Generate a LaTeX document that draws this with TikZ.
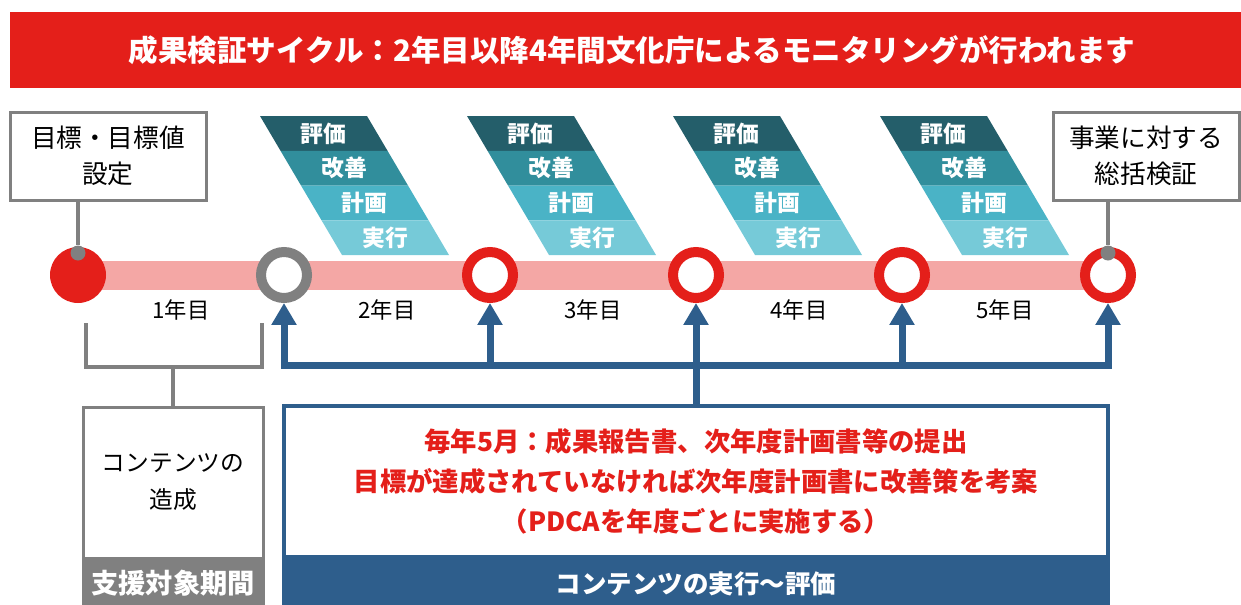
\documentclass[tikz,border=0pt]{standalone}
\usepackage{fontspec}
\setmainfont{Noto Sans CJK JP}
\usetikzlibrary{arrows.meta}
\definecolor{mainred}{HTML}{E41F1A}
\definecolor{bandpink}{HTML}{F4A7A5}
\definecolor{ringgray}{HTML}{808080}
\definecolor{planblue}{HTML}{2E5E8C}
\definecolor{pdA}{HTML}{245E6A}
\definecolor{pdB}{HTML}{318E9C}
\definecolor{pdC}{HTML}{4AB3C6}
\definecolor{pdD}{HTML}{76CAD8}
\newlength\unitpx
\setlength\unitpx{0.02cm}
\tikzset{
  labelbox/.style={draw=ringgray, line width=3\unitpx, fill=white, align=center,
    inner sep=0pt, minimum height=88\unitpx, font=\fontsize{14.6}{20.5}\selectfont},
  ring/.style={circle, draw=#1, line width=10\unitpx, fill=white, inner sep=0pt,
    minimum size=46\unitpx},
  dot/.style={circle, fill=ringgray, inner sep=0pt, minimum size=15\unitpx},
  grayline/.style={draw=ringgray, line width=4\unitpx},
  blueline/.style={draw=planblue, line width=7\unitpx},
  bluetip/.tip={Triangle[width=0.48cm, length=0.44cm]},
  bluearrow/.style={blueline, -bluetip},
  cyclelabel/.style={text=white, font=\fontsize{13}{15}\selectfont\bfseries},
  yearlabel/.style={font=\fontsize{12.7}{15}\selectfont},
  barlabel/.style={text=white, inner sep=0pt, font=\fontsize{15}{18}\selectfont\bfseries}
}

\begin{document}
\begin{tikzpicture}[x=0.02cm, y=-0.02cm]
  \useasboundingbox (0,0) rectangle (1241,605);
  \fill[mainred] (10,12) rectangle (1241,88);
  \node[text=white, font=\fontsize{16.8}{20}\selectfont\bfseries] (title) at (632,50)
    {成果検証サイクル：2年目以降4年間文化庁によるモニタリングが行われます};

  \foreach \bx [count=\k] in {260,467,673,880} {
    \foreach \lbl/\col [count=\j from 0] in {評価/pdA,改善/pdB,計画/pdC,実行/pdD} {
      \pgfmathsetmacro{\ytop}{116 + \j * 34.75}
      \pgfmathsetmacro{\xl}{\bx + 0.59 * (\ytop - 116)}
      \fill[\col] (\xl,\ytop) -- ++(107,0) -- ++(20.5,34.75) -- ++(-107,0) -- cycle;
      \node[cyclelabel] (p\k\j) at (\xl + 63.75,\ytop + 17.4) {\lbl};
    }
  }

  \fill[bandpink] (78,261) rectangle (1108,290);
  \node[circle, fill=mainred, inner sep=0pt, minimum size=56\unitpx] (c0) at (78,275) {};
  \foreach \x/\col [count=\i] in {284/ringgray,490/mainred,696/mainred,902/mainred,1108/mainred}
    \node[ring=\col] (c\i) at (\x,275) {};
  \foreach \x [count=\i] in {181,387,593,799,1005}
    \node[yearlabel] (y\i) at (\x,310) {\i 年目};

  \node[labelbox, minimum width=196\unitpx] (goal) at (108,156) {目標・目標値\\設定};
  \node[dot] (d0) at (78,253) {};
  \draw[grayline] (d0 |- goal.south) -- (d0);
  \node[labelbox, minimum width=186\unitpx] (review) at (1146,156) {事業に対する\\総括検証};
  \node[dot] (d5) at (1108,253) {};
  \draw[grayline] (d5 |- review.south) -- (d5);

  \node[draw=ringgray, line width=3\unitpx, align=center, inner sep=0pt,
    minimum width=180\unitpx, minimum height=151\unitpx,
    font=\fontsize{13.5}{21}\selectfont] (make) at (173,482.5) {コンテンツの\\造成};
  \node[barlabel, fill=ringgray, anchor=north, minimum width=183\unitpx,
    minimum height=47\unitpx, font=\fontsize{15.5}{18}\selectfont\bfseries]
    (makebar) at (make.south) {支援対象期間};
  \coordinate (bl) at (86,323);
  \coordinate (br) at (262,323);
  \draw[grayline] (bl) -- (86,367) -- (262,367) -- (br);
  \draw[grayline] (make.north |- 0,367) -- (make.north);

  \node[draw=planblue, line width=4\unitpx, text=mainred, align=center, inner sep=0pt,
    minimum width=824\unitpx, minimum height=151\unitpx,
    font=\fontsize{15}{22.7}\selectfont\bfseries] (exec) at (696,481.5)
    {毎年5月：成果報告書、次年度計画書等の提出\\
     目標が達成されていなければ次年度計画書に改善策を考案\\
     （PDCAを年度ごとに実施する）};
  \node[barlabel, fill=planblue, anchor=north, minimum width=828\unitpx,
    minimum height=48\unitpx, font=\fontsize{14.5}{18}\selectfont\bfseries]
    (execbar) at (exec.south) {コンテンツの実行〜評価};

  \coordinate (hl) at (284,365);
  \draw[blueline, bluetip-bluetip] (c1.south) -- (c1 |- hl) -- (c5 |- hl) -- (c5.south);
  \foreach \i in {2,3,4}
    \draw[bluearrow] (c\i |- hl) -- (c\i.south);
  \draw[blueline] (c3 |- hl) -- (exec.north);
\end{tikzpicture}
\end{document}
